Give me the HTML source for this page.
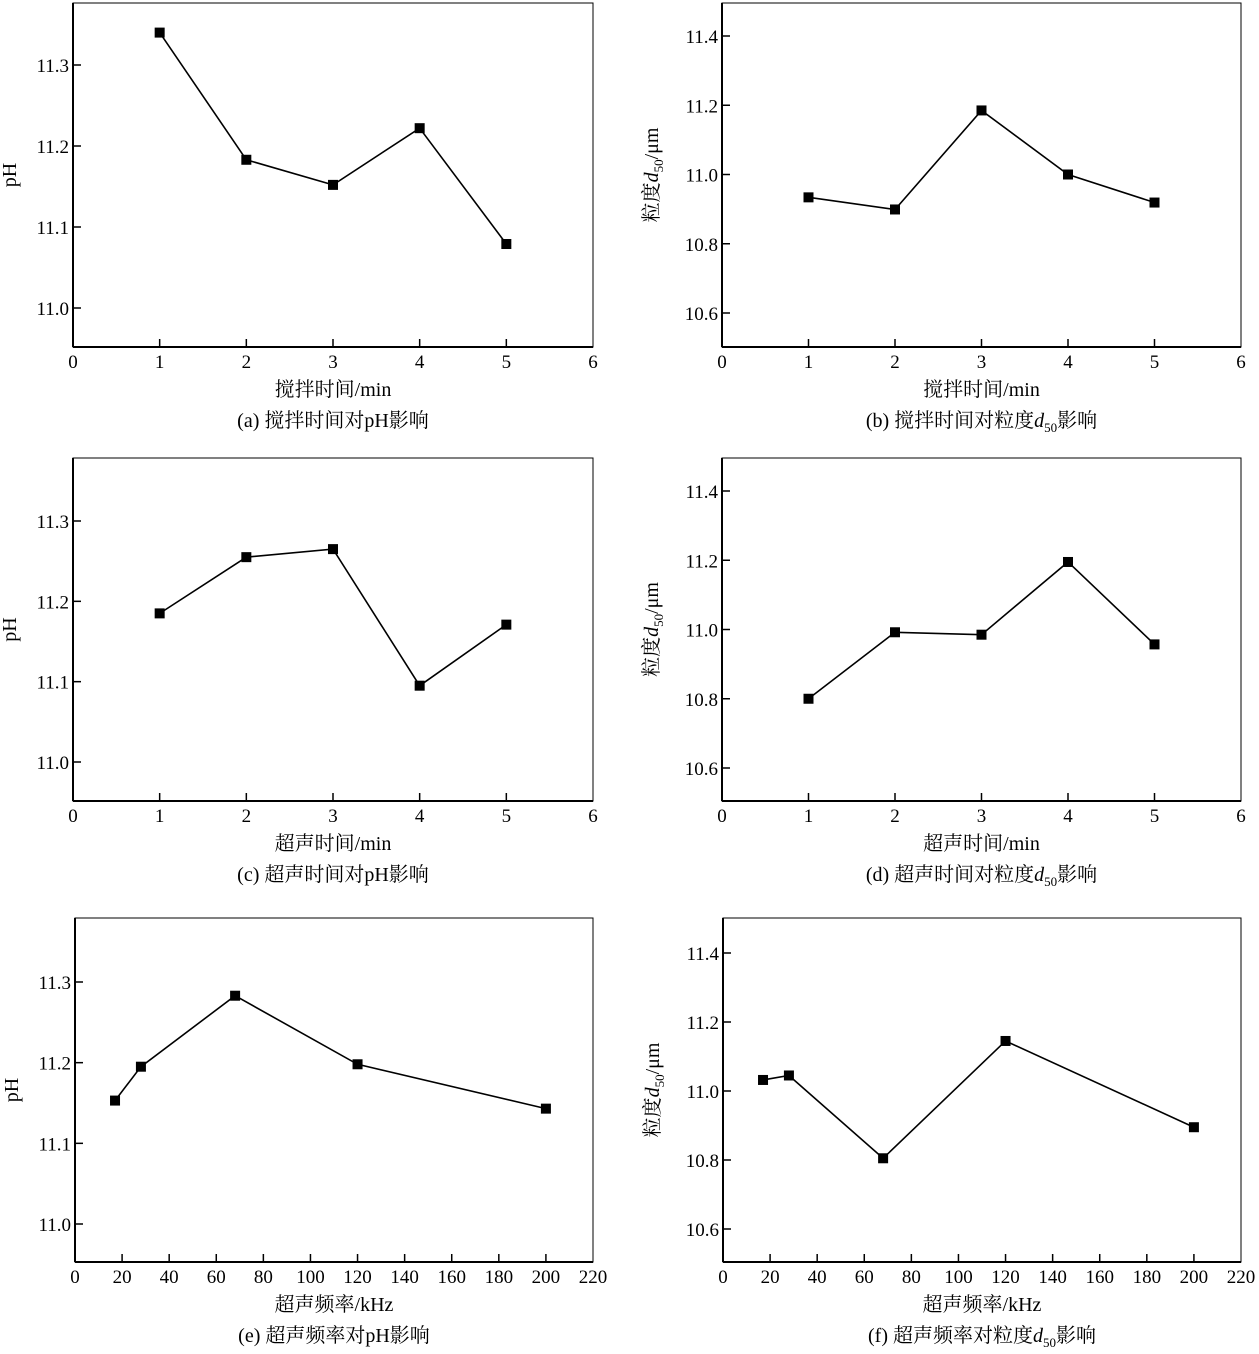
<!DOCTYPE html>
<html><head><meta charset="utf-8"><style>
body{margin:0;background:#fff}
svg{display:block;font-family:"Liberation Serif","Noto Serif CJK SC",serif}
</style></head><body>
<svg id="c" width="1259" height="1354" viewBox="0 0 1259 1354"></svg>
<script>
const xA=[1,2,3,4,5];
const xF=[17,28,68,120,200];
const yA=[11.34,11.183,11.152,11.222,11.079];
const yB=[10.934,10.899,11.185,11.0,10.919];
const yC=[11.185,11.255,11.265,11.095,11.171];
const yD=[10.80,10.992,10.985,11.195,10.957];
const yE=[11.153,11.195,11.283,11.198,11.143];
const yF=[11.032,11.045,10.805,11.145,10.895];
const xTicks6=[0,1,2,3,4,5,6];
const xTicks220=[0,20,40,60,80,100,120,140,160,180,200,220];
const yTicksPH=[11.0,11.1,11.2,11.3];
const yTicksD=[10.6,10.8,11.0,11.2,11.4];
const panels=[
 {id:'a',L:73,R:593,T:3,B:347,x0:0,x1:6,xt:xTicks6,xs:xA,ys:yA,ya:11.0,ypa:308,yb:11.3,ypb:65,yt:yTicksPH,yl:'pH',xl:'搅拌时间/min',cap:'(a) 搅拌时间对pH影响',dec:1},
 {id:'b',L:722,R:1241,T:3,B:347,x0:0,x1:6,xt:xTicks6,xs:xA,ys:yB,ya:10.6,ypa:313,yb:11.4,ypb:36,yt:yTicksD,yl:'d',xl:'搅拌时间/min',cap:'(b) 搅拌时间对粒度',dec:1},
 {id:'c',L:73,R:593,T:458,B:801,x0:0,x1:6,xt:xTicks6,xs:xA,ys:yC,ya:11.0,ypa:762,yb:11.3,ypb:521,yt:yTicksPH,yl:'pH',xl:'超声时间/min',cap:'(c) 超声时间对pH影响',dec:1},
 {id:'d',L:722,R:1241,T:458,B:801,x0:0,x1:6,xt:xTicks6,xs:xA,ys:yD,ya:10.6,ypa:768,yb:11.4,ypb:491,yt:yTicksD,yl:'d',xl:'超声时间/min',cap:'(d) 超声时间对粒度',dec:1},
 {id:'e',L:75,R:593,T:918,B:1262,x0:0,x1:220,xt:xTicks220,xs:xF,ys:yE,ya:11.0,ypa:1224,yb:11.3,ypb:982,yt:yTicksPH,yl:'pH',xl:'超声频率/kHz',cap:'(e) 超声频率对pH影响',dec:1},
 {id:'f',L:723,R:1241,T:918,B:1262,x0:0,x1:220,xt:xTicks220,xs:xF,ys:yF,ya:10.6,ypa:1229,yb:11.4,ypb:953,yt:yTicksD,yl:'d',xl:'超声频率/kHz',cap:'(f) 超声频率对粒度',dec:1}
];
const svg=document.getElementById('c');const NS='http://www.w3.org/2000/svg';
function mk(t,a,p,txt){const e=document.createElementNS(NS,t);for(const k in a)e.setAttribute(k,a[k]);if(txt!=null)e.textContent=txt;(p||svg).appendChild(e);return e;}
panels.forEach(p=>{
 const g=mk('g',{});
 
 
 const X=v=>p.L+(v-p.x0)/(p.x1-p.x0)*(p.R-p.L);
 const Y=v=>p.ypa+(v-p.ya)/(p.yb-p.ya)*(p.ypb-p.ypa);
 const fr=mk('rect',{x:p.L,y:p.T,width:p.R-p.L,height:p.B-p.T,fill:'none',stroke:'#000','stroke-width':1},g);
 
 
 mk('line',{x1:p.L,y1:p.T,x2:p.L,y2:p.B,stroke:'#000','stroke-width':2},g);
 mk('line',{x1:p.L,y1:p.B,x2:p.R,y2:p.B,stroke:'#000','stroke-width':2},g);
 p.xt.forEach(v=>{const x=X(v);
  if(v!==p.x0&&v!==p.x1)mk('line',{x1:x,y1:p.B,x2:x,y2:p.B-8,stroke:'#000','stroke-width':1.5},g);
  const t=mk('text',{x:x,y:p.B+21,'text-anchor':'middle','font-size':19},g,String(v));
  
  
 });
 p.yt.forEach(v=>{const y=Y(v);
  mk('line',{x1:p.L,y1:y,x2:p.L+8,y2:y,stroke:'#000','stroke-width':1.5},g);
  const t=mk('text',{x:p.L-4,y:y+7,'text-anchor':'end','font-size':19},g,v.toFixed(1));
  
  
 });
 const pts=p.xs.map((v,i)=>X(v)+','+Y(p.ys[i])).join(' ');
 const ln=mk('polyline',{points:pts,fill:'none',stroke:'#000','stroke-width':1.6},g);
 
 
 p.xs.forEach((v,i)=>{const m=mk('rect',{x:X(v)-5,y:Y(p.ys[i])-5,width:10,height:10,fill:'#000'},g);
  
  });
 const cx=(p.L+p.R)/2;
 const xl=mk('text',{x:cx,y:p.B+49,'text-anchor':'middle','font-size':20},g,p.xl);
 
 
 const cy=(p.T+p.B)/2;
 let yl;
 if(p.yl==='pH'){yl=mk('text',{x:0,y:0,'text-anchor':'middle','font-size':20,transform:`translate(${p.L-57},${cy}) rotate(-90)`},g,'pH');}
 else{yl=mk('text',{x:0,y:0,'text-anchor':'middle','font-size':20,transform:`translate(${p.L-64},${cy}) rotate(-90)`},g);
  mk('tspan',{},yl,'粒度');mk('tspan',{'font-style':'italic'},yl,'d');mk('tspan',{'font-size':13,dy:5},yl,'50');mk('tspan',{dy:-5},yl,'/μm');}
 
 
 const cp=mk('text',{x:cx,y:p.B+80,'text-anchor':'middle','font-size':20},g);
 if(p.yl==='pH'){cp.textContent=p.cap;}
 else{mk('tspan',{},cp,p.cap);mk('tspan',{'font-style':'italic'},cp,'d');mk('tspan',{'font-size':13,dy:5},cp,'50');mk('tspan',{dy:-5},cp,'影响');}
 
 
});
</script>
</body></html>
